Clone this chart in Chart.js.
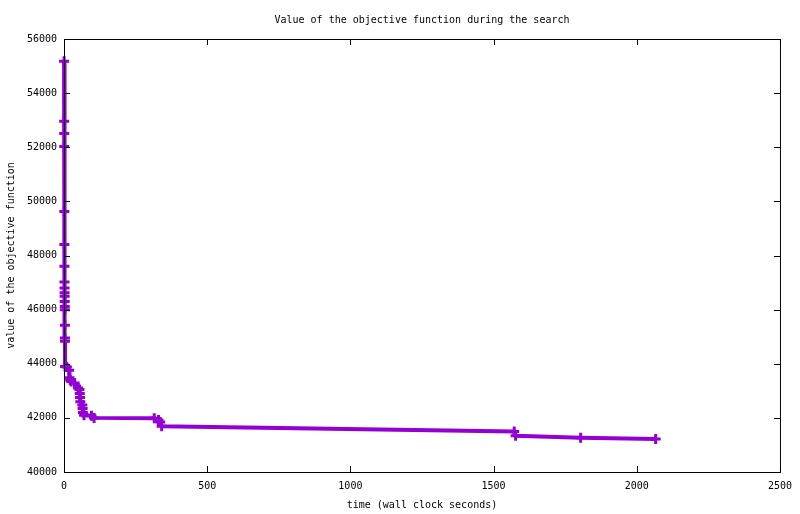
<!DOCTYPE html>
<html>
<head>
<meta charset="utf-8">
<script src="https://cdn.jsdelivr.net/npm/chart.js@4"></script>
<style>
  body { margin: 0; background: #fff; }
</style>
</head>
<body>
<canvas id="searchChart" width="800" height="514"></canvas>
<script>
// values (wall clock seconds / objective value)
const times = [
  0.3, 0.5, 0.7, 0.9, 1.1, 1.3, 1.5, 1.7, 1.9, 2.1, 2.3, 2.5, 2.7, 2.9, 3.1, 3.3, 3.5, 3.7,
  10, 18, 19, 22, 25, 37, 49, 54, 55, 56, 57, 64, 65, 66, 70, 96, 105,
  315, 330, 336, 341, 1572, 1577, 1804, 2066
];
const objective = [
  55175, 52960, 52510, 52030, 49630, 48410, 47600, 47020, 46800, 46620, 46490, 46300, 46120, 46000, 45420, 44950, 44830, 43900,
  43880, 43760, 43480, 43400, 43340, 43290, 43100, 43050, 42900, 42750, 42600, 42480, 42350, 42200, 42100, 42080, 42000,
  41985, 41920, 41850, 41690, 41500, 41340, 41270, 41220
];
const xTicks = [0, 500, 1000, 1500, 2000, 2500];
const yTicks = [40000, 42000, 44000, 46000, 48000, 50000, 52000, 54000, 56000];

const points = times.map((t, i) => ({ x: t, y: objective[i] }));
const monoFont = { family: '"DejaVu Sans Mono", "Liberation Mono", monospace', size: 10, weight: 'normal' };

// gnuplot style frame with inward ticks on all four sides
const frameTicks = {
  id: 'frameTicks',
  afterDatasetsDraw(chart) {
    const { ctx, chartArea: a, scales: { x, y } } = chart;
    ctx.save();
    ctx.strokeStyle = '#000';
    ctx.lineWidth = 1;
    ctx.beginPath();
    x.ticks.forEach(t => {
      const px = Math.round(x.getPixelForValue(t.value)) + 0.5;
      ctx.moveTo(px, a.bottom); ctx.lineTo(px, a.bottom - 6);
      ctx.moveTo(px, a.top); ctx.lineTo(px, a.top + 6);
    });
    y.ticks.forEach(t => {
      const py = Math.round(y.getPixelForValue(t.value)) + 0.5;
      ctx.moveTo(a.left, py); ctx.lineTo(a.left + 6, py);
      ctx.moveTo(a.right, py); ctx.lineTo(a.right - 6, py);
    });
    ctx.stroke();
    ctx.strokeRect(a.left + 0.5, a.top + 0.5, a.right - a.left, a.bottom - a.top);
    ctx.restore();
  }
};

const ctx = document.getElementById('searchChart').getContext('2d');
new Chart(ctx, {
  type: 'scatter',
  data: {
    datasets: [{
      data: points,
      showLine: true,
      borderColor: '#9400d3',
      backgroundColor: '#9400d3',
      borderWidth: 4,
      pointStyle: 'cross',
      pointRadius: 5,
      pointBorderWidth: 3,
      pointHoverRadius: 5,
      clip: false
    }]
  },
  options: {
    responsive: false,
    animation: false,
    devicePixelRatio: 1,
    layout: { padding: { left: 0, right: 19, top: 0, bottom: 0 } },
    plugins: {
      legend: { display: false },
      tooltip: { enabled: false },
      title: {
        display: true,
        fullSize: false,
        text: 'Value of the objective function during the search',
        color: '#000',
        font: monoFont,
        padding: { top: 14, bottom: 13 }
      }
    },
    scales: {
      x: {
        type: 'linear',
        min: 0,
        max: 2500,
        afterBuildTicks: s => { s.ticks = xTicks.map(v => ({ value: v })); },
        afterFit: s => { s.height = 42; },
        grid: { display: false, drawTicks: false },
        border: { display: false },
        ticks: { color: '#000', font: monoFont, padding: 8, maxRotation: 0, callback: v => String(v) },
        title: {
          display: true,
          text: 'time (wall clock seconds)',
          color: '#000',
          font: monoFont,
          padding: { top: 0, bottom: 3 }
        }
      },
      y: {
        min: 40000,
        max: 56000,
        afterBuildTicks: s => { s.ticks = yTicks.map(v => ({ value: v })); },
        afterFit: s => { s.width = 64; },
        grid: { display: false, drawTicks: false },
        border: { display: false },
        ticks: { color: '#000', font: monoFont, padding: 7, callback: v => String(v) },
        title: {
          display: true,
          text: 'value of the objective function',
          color: '#000',
          font: monoFont,
          padding: { top: 5, bottom: 0 }
        }
      }
    }
  },
  plugins: [frameTicks]
});
</script>
</body>
</html>
